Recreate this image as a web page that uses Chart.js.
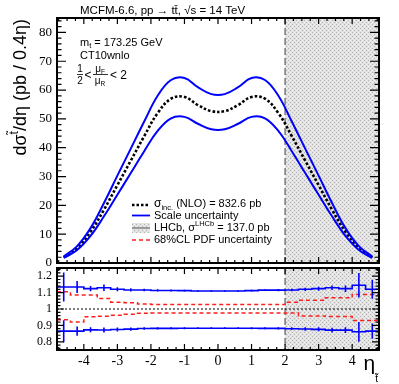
<!DOCTYPE html>
<html><head><meta charset="utf-8">
<script src="https://cdn.jsdelivr.net/npm/chart.js@4/dist/chart.umd.min.js"></script>
<style>
html,body{margin:0;padding:0;background:#fff;}
#wrap{position:relative;width:399px;height:384px;overflow:hidden;}
canvas{position:absolute;left:0;top:0;}
</style></head><body>
<div id="wrap"><canvas id="cTop" width="399" height="384"></canvas><canvas id="cBot" width="399" height="384"></canvas></div>
<script>
// ---------------- DATA ----------------
const etaBins = [-4.6,-4.2,-3.8,-3.4,-3.0,-2.6,-2.2,-1.8,-1.4,-1.0,-0.6,-0.2,0.2,0.6,1.0,1.4,1.8,2.2,2.6,3.0,3.4,3.8,4.2,4.6];
const binWidth = 0.4;
const xsecNLO   = [2.0,5.2,10.8,18.5,27.0,35.5,44.0,52.0,57.0,57.6,54.8,52.7,52.7,54.8,57.6,57.0,52.0,44.0,35.5,27.0,18.5,10.8,5.2,2.0];
const scaleUpper= [2.25,5.85,12.1,20.8,30.3,39.7,49.1,58.0,63.5,64.2,61.0,58.6,58.6,61.0,64.2,63.5,58.0,49.1,39.7,30.3,20.8,12.1,5.85,2.25];
const scaleLower= [1.73,4.5,9.4,16.2,23.7,31.2,38.8,45.8,50.2,50.7,48.3,46.4,46.4,48.3,50.7,50.2,45.8,38.8,31.2,23.7,16.2,9.4,4.5,1.73];
// ratio panel
const ratioScaleUp   = [1.134,1.134,1.124,1.130,1.120,1.116,1.116,1.113,1.113,1.112,1.110,1.110,1.110,1.110,1.112,1.115,1.115,1.116,1.120,1.124,1.130,1.124,1.145,1.120];
const ratioScaleUpErr= [0.088,0.036,0.016,0.020,0.012,0.010,0.008,0.007,0.006,0.006,0.005,0.005,0.005,0.005,0.006,0.006,0.007,0.008,0.010,0.012,0.014,0.020,0.075,0.058];
const ratioScaleDown = [0.865,0.865,0.873,0.872,0.875,0.877,0.881,0.882,0.882,0.883,0.883,0.883,0.883,0.883,0.883,0.882,0.882,0.880,0.878,0.876,0.871,0.871,0.861,0.865];
const ratioScaleDownErr=[0.067,0.028,0.015,0.015,0.012,0.010,0.008,0.007,0.006,0.006,0.005,0.005,0.005,0.005,0.006,0.006,0.007,0.008,0.010,0.012,0.014,0.018,0.060,0.047];
const ratioPdfUp   = [1.105,1.085,1.085,1.064,1.041,1.038,1.030,1.027,1.027,1.027,1.027,1.027,1.027,1.027,1.027,1.027,1.027,1.041,1.053,1.053,1.068,1.068,1.089,1.089];
const ratioPdfDown = [0.934,0.920,0.952,0.956,0.962,0.968,0.974,0.976,0.976,0.976,0.976,0.976,0.976,0.976,0.976,0.976,0.976,0.976,0.958,0.958,0.954,0.954,0.930,0.930];
const ratioRef = 1;
const lhcbRange = [2.0, 5.0];
// axes / ticks
const xRange = [-4.8, 4.8];
const yRangeMain = [0, 85];
const yRangeRatio = [0.75, 1.25];
const xTicks = [-4,-3,-2,-1,0,1,2,3,4];
const xTickLabels = ['-4','-3','-2','-1','0','1','2','3','4'];
const yTicksMain = [0,10,20,30,40,50,60,70,80];
const yTickLabelsMain = ['0','10','20','30','40','50','60','70','80'];
const yTicksRatio = [0.8,0.9,1.0,1.1,1.2];
const yTickLabelsRatio = ['0.8','0.9','1','1.1','1.2'];

// ---------------- HELPERS ----------------
const SANS = '"Liberation Sans", Arial, sans-serif';
const SERIF = '"Liberation Serif", "Times New Roman", serif';
const BLUE = 'rgb(0,0,255)';
const RED = 'rgb(255,30,30)';

function pts(arr){ return etaBins.map((c,i)=>({x:c,y:arr[i]})); }
function steps(arr){
  const h = binWidth/2;
  const out = etaBins.map((c,i)=>({x:c-h,y:arr[i]}));
  out.push({x:etaBins[etaBins.length-1]+h, y:arr[arr.length-1]});
  return out;
}
function rangeSteps(min,max,step){
  const out=[]; const s=Math.ceil(min/step-1e-9);
  for(let k=s;k*step<=max+1e-9;k++) out.push(+(k*step).toFixed(6));
  return out;
}
let hatchPat=null;
function hatch(ctx){
  if(hatchPat) return hatchPat;
  const c=document.createElement('canvas'); c.width=4; c.height=4;
  const g=c.getContext('2d');
  g.fillStyle='#e2e2e2'; g.fillRect(0,0,4,4);
  g.fillStyle='#b4b4b4'; g.fillRect(0,0,1,1); g.fillRect(2,2,1,1);
  g.fillStyle='#f2f2f2'; g.fillRect(2,0,1,1); g.fillRect(0,2,1,1);
  hatchPat=ctx.createPattern(c,'repeat'); return hatchPat;
}
function rich(ctx, parts, x, y, align){
  let w=0; const ms=[];
  parts.forEach(p=>{ctx.font=p[1]+'px '+(p[3]||SANS); const m=ctx.measureText(p[0]).width; ms.push(m); w+=m;});
  let cx = align==='right'? x-w : (align==='center'? x-w/2 : x);
  ctx.textAlign='left';
  parts.forEach((p,i)=>{ctx.font=p[1]+'px '+(p[3]||SANS); ctx.fillText(p[0],cx,y+(p[2]||0)); cx+=ms[i];});
  return w;
}
function drawLhcb(chart){
  const {ctx, chartArea:a, scales:{x}} = chart;
  const x0=Math.max(a.left,x.getPixelForValue(lhcbRange[0]));
  const x1=Math.min(a.right,x.getPixelForValue(lhcbRange[1]));
  ctx.save();
  ctx.fillStyle=hatch(ctx);
  ctx.fillRect(x0,a.top,x1-x0,a.bottom-a.top);
  ctx.strokeStyle='#7a7a7a'; ctx.lineWidth=1.5; ctx.setLineDash([7,3]);
  ctx.beginPath(); ctx.moveTo(x0,a.top); ctx.lineTo(x0,a.bottom); ctx.stroke();
  ctx.restore();
}
function drawFrame(chart,o){
  const {ctx, chartArea:a, scales:{x,y}} = chart;
  ctx.save(); ctx.strokeStyle='#000'; ctx.lineWidth=1.2; ctx.beginPath();
  rangeSteps(x.min,x.max,o.xMinor).forEach(v=>{
    const p=x.getPixelForValue(v);
    const L = xTicks.some(m=>Math.abs(m-v)<1e-6)? o.xLen[0]:o.xLen[1];
    ctx.moveTo(p,a.bottom); ctx.lineTo(p,a.bottom-L);
    ctx.moveTo(p,a.top); ctx.lineTo(p,a.top+L);
  });
  rangeSteps(y.min,y.max,o.yMinor).forEach(v=>{
    const p=y.getPixelForValue(v);
    const L = o.yMajor.some(m=>Math.abs(m-v)<1e-6)? o.yLen[0]:o.yLen[1];
    ctx.moveTo(a.left,p); ctx.lineTo(a.left+L,p);
    ctx.moveTo(a.right,p); ctx.lineTo(a.right-L,p);
  });
  ctx.stroke();
  ctx.lineWidth=2; ctx.strokeRect(a.left,a.top,a.right-a.left,a.bottom-a.top);
  // y labels
  ctx.fillStyle='#000'; ctx.textAlign='right'; ctx.textBaseline='middle';
  ctx.font=o.yFont+'px '+SERIF;
  o.yMajor.forEach((v,i)=>{ ctx.fillText(o.yLabels[i], a.left-5, y.getPixelForValue(v)); });
  ctx.restore();
}

// ---------------- TOP PANEL ----------------
const topDeco = {
  id:'topDeco',
  beforeDatasetsDraw(chart){ drawLhcb(chart); },
  afterDatasetsDraw(chart){
    const {ctx, chartArea:a} = chart;
    drawFrame(chart,{xMinor:0.25,xLen:[6,3],yMajor:yTicksMain,yMinor:2,yLen:[9,4.5],yLabels:yTickLabelsMain,yFont:13});
    ctx.save(); ctx.fillStyle='#000'; ctx.textBaseline='alphabetic';
    // title
    rich(ctx,[['MCFM-6.6, pp \u2192 t\u0074\u0304, \u221As = 14 TeV',11.5]],80,14,'left');
    // annotations
    rich(ctx,[['m',11],['t',7.5,2],[' = 173.25 GeV',11]],80,46,'left');
    rich(ctx,[['CT10wnlo',11]],80,59,'left');
    // fraction 1/2 < muF/muR < 2
    ctx.textBaseline='alphabetic';
    rich(ctx,[['1',10]],80,72,'center');
    rich(ctx,[['2',10]],80,84,'center');
    ctx.strokeStyle='#000'; ctx.lineWidth=0.8;
    ctx.beginPath(); ctx.moveTo(77,74.5); ctx.lineTo(83,74.5); ctx.moveTo(93,74.5); ctx.lineTo(108,74.5); ctx.stroke();
    rich(ctx,[['<',12]],88,79,'center');
    rich(ctx,[['\u03BC',10],['F',6.5,1.5]],100,72,'center');
    rich(ctx,[['\u03BC',10],['R',6.5,1.5]],100,84,'center');
    rich(ctx,[['< 2',12]],110,79,'left');
    // legend
    const lx0=132, lx1=150, tx=154, rows=[204,215.5,228,240];
    ctx.save(); ctx.lineWidth=2.5; ctx.strokeStyle='#000'; ctx.setLineDash([2.5,2]);
    ctx.beginPath(); ctx.moveTo(lx0,rows[0]+1); ctx.lineTo(lx1,rows[0]+1); ctx.stroke();
    ctx.setLineDash([]); ctx.lineWidth=1.8; ctx.strokeStyle=BLUE;
    ctx.beginPath(); ctx.moveTo(lx0,rows[1]); ctx.lineTo(lx1,rows[1]); ctx.stroke();
    ctx.fillStyle=hatch(ctx); ctx.fillRect(lx0,rows[2]-5,lx1-lx0,10);
    ctx.strokeStyle='#9a9a9a'; ctx.lineWidth=2; ctx.beginPath(); ctx.moveTo(lx0,rows[2]); ctx.lineTo(lx1,rows[2]); ctx.stroke();
    ctx.strokeStyle=RED; ctx.lineWidth=1.5; ctx.setLineDash([4,3]);
    ctx.beginPath(); ctx.moveTo(lx0,rows[3]); ctx.lineTo(lx1,rows[3]); ctx.stroke();
    ctx.restore();
    ctx.fillStyle='#000'; ctx.textBaseline='middle';
    rich(ctx,[['\u03C3',12],['inc.',7.5,3.5],[' (NLO) = 832.6 pb',11]],tx,rows[0],'left');
    rich(ctx,[['Scale uncertainty',11]],tx,rows[1],'left');
    rich(ctx,[['LHCb, \u03C3',11],['LHCb',7.5,-4],[' = 137.0 pb',11]],tx,rows[2],'left');
    rich(ctx,[['68%CL PDF uncertainty',11]],tx,rows[3],'left');
    // y title
    ctx.textBaseline='alphabetic';
    ctx.translate(26,19); ctx.rotate(-Math.PI/2);
    rich(ctx,[['d\u03C3',18],['t\u0303',12,-8],['/d\u03B7 (pb / 0.4\u03B7)',18]],0,0,'right');
    ctx.restore();
  }
};

new Chart(document.getElementById('cTop'),{
  type:'line',
  data:{datasets:[
    {data:pts(scaleUpper),borderColor:BLUE,borderWidth:2,tension:0.4,pointRadius:0},
    {data:pts(scaleLower),borderColor:BLUE,borderWidth:2,tension:0.4,pointRadius:0},
    {data:pts(xsecNLO),borderColor:'#000',borderWidth:2.6,borderDash:[2.6,2],tension:0.4,pointRadius:0}
  ]},
  options:{
    responsive:false, animation:false, devicePixelRatio:1, events:[],
    layout:{padding:{left:57,right:20,top:18,bottom:121}},
    plugins:{legend:{display:false},tooltip:{enabled:false}},
    scales:{
      x:{type:'linear',min:xRange[0],max:xRange[1],display:false},
      y:{type:'linear',min:yRangeMain[0],max:yRangeMain[1],display:false}
    }
  },
  plugins:[topDeco]
});

// ---------------- RATIO PANEL ----------------
const botDeco = {
  id:'botDeco',
  beforeDatasetsDraw(chart){ drawLhcb(chart); },
  afterDatasetsDraw(chart){
    const {ctx, chartArea:a, scales:{x,y}} = chart;
    ctx.save();
    ctx.beginPath(); ctx.rect(a.left,a.top,a.right-a.left,a.bottom-a.top); ctx.clip();
    ctx.strokeStyle=BLUE; ctx.lineWidth=1.6; ctx.beginPath();
    etaBins.forEach((c,i)=>{
      const px=x.getPixelForValue(c);
      ctx.moveTo(px,y.getPixelForValue(ratioScaleUp[i]-ratioScaleUpErr[i]));
      ctx.lineTo(px,y.getPixelForValue(ratioScaleUp[i]+ratioScaleUpErr[i]));
      ctx.moveTo(px,y.getPixelForValue(ratioScaleDown[i]-ratioScaleDownErr[i]));
      ctx.lineTo(px,y.getPixelForValue(ratioScaleDown[i]+ratioScaleDownErr[i]));
    });
    ctx.stroke(); ctx.restore();
    drawFrame(chart,{xMinor:0.25,xLen:[6,3],yMajor:yTicksRatio,yMinor:0.02,yLen:[7,3.5],yLabels:yTickLabelsRatio,yFont:12});
    ctx.save(); ctx.fillStyle='#000';
    ctx.textAlign='center'; ctx.textBaseline='middle'; ctx.font='14px '+SERIF;
    xTicks.forEach((v,i)=>ctx.fillText(xTickLabels[i], x.getPixelForValue(v), 361));
    ctx.textBaseline='alphabetic';
    rich(ctx,[['\u03B7',21],['t\u0303',10,12]],378,370,'right');
    ctx.restore();
  }
};

new Chart(document.getElementById('cBot'),{
  type:'line',
  data:{datasets:[
    {data:steps(etaBins.map(()=>ratioRef)),borderColor:'#000',borderWidth:1.2,borderDash:[2,2],stepped:true,pointRadius:0},
    {data:steps(ratioPdfUp),borderColor:RED,borderWidth:1.5,borderDash:[4,3],stepped:true,pointRadius:0},
    {data:steps(ratioPdfDown),borderColor:RED,borderWidth:1.5,borderDash:[4,3],stepped:true,pointRadius:0},
    {data:steps(ratioScaleUp),borderColor:BLUE,borderWidth:1.6,stepped:true,pointRadius:0},
    {data:steps(ratioScaleDown),borderColor:BLUE,borderWidth:1.6,stepped:true,pointRadius:0}
  ]},
  options:{
    responsive:false, animation:false, devicePixelRatio:1, events:[],
    layout:{padding:{left:57,right:20,top:268,bottom:34}},
    plugins:{legend:{display:false},tooltip:{enabled:false}},
    scales:{
      x:{type:'linear',min:xRange[0],max:xRange[1],display:false},
      y:{type:'linear',min:yRangeRatio[0],max:yRangeRatio[1],display:false}
    }
  },
  plugins:[botDeco]
});
</script>
</body></html>
